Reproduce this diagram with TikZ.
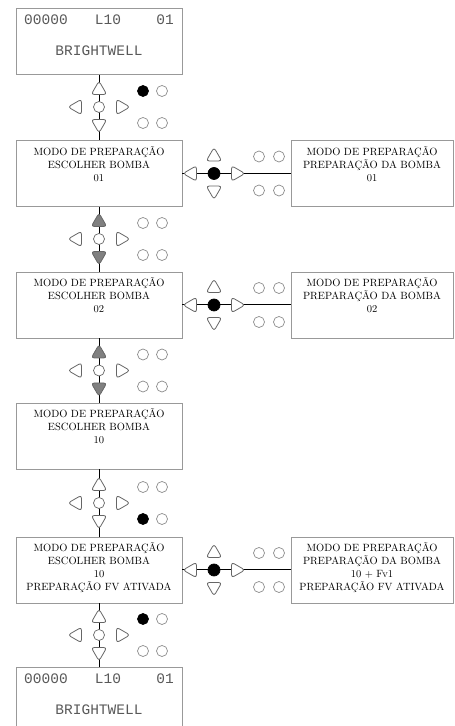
\documentclass[tikz,border=0pt]{standalone}
\usepackage{fontspec}
\usepackage{tikz}
\usetikzlibrary{
    positioning,
    shapes.geometric
}
\newfontfamily\lcdfont{Liberation Mono}

\tikzset{
    panel/.style={draw=black!40, line width=0.7pt, fill=white,
        minimum width=166pt, minimum height=66pt, inner sep=0pt},
    sidepanel/.style={panel, minimum width=162pt},
    paneltext/.style={align=center, inner sep=0pt, text=black,
        font=\fontsize{10.5}{13}\selectfont},
    lcd/.style={inner sep=0pt, text=black!65,
        font=\lcdfont\fontsize{14.5}{16}\selectfont},
    key/.style={regular polygon, regular polygon sides=3, minimum size=18pt,
        inner sep=0pt, draw=black!60, fill=white, line width=0.8pt,
        rounded corners=3pt},
    keyon/.style={key, fill=black!50},
    hub/.style={circle, minimum size=11pt, inner sep=0pt, draw=black!60,
        fill=white, line width=0.7pt},
    hubon/.style={hub, minimum size=12pt, draw=black, fill=black},
    led/.style={circle, minimum size=11pt, inner sep=0pt, draw=black!45,
        fill=white, line width=0.7pt},
    ledon/.style={led, draw=black, fill=black},
    link/.style={line width=1pt, black}
}

\begin{document}
\begin{tikzpicture}[x=1pt, y=1pt]

\useasboundingbox (0,0) rectangle (455,726);
\clip (0,0) rectangle (455,726);

% Main column of screens
\node[panel] (b1) at (99,684.5) {};
\node[panel] (b2) at (99,552.5) {};
\node[panel] (b3) at (99,421) {};
\node[panel] (b4) at (99,290) {};
\node[panel] (b5) at (99,156) {};
\node[panel] (b6) at (99,26) {};

% Side screens
\node[sidepanel] (r1) at (372,552.5) {};
\node[sidepanel] (r2) at (372,421) {};
\node[sidepanel] (r3) at (372,156) {};

% Start and end screens
\node[lcd] (num1) at (46,706) {00000};
\node[lcd] (lvl1) at (108,706) {L10};
\node[lcd] (id1) at (165,706) {01};
\node[lcd] (name1) at (99,675.5) {BRIGHTWELL};
\node[lcd] (num6) at (46,47.5) {00000};
\node[lcd] (lvl6) at (108,47.5) {L10};
\node[lcd] (id6) at (165,47.5) {01};
\node[lcd] (name6) at (99,16.5) {BRIGHTWELL};

% Screen texts
\node[paneltext, below=6pt of b2.north] (t2)
    {MODO DE PREPARAÇÃO\\ESCOLHER BOMBA\\01};
\node[paneltext, below=6pt of b3.north] (t3)
    {MODO DE PREPARAÇÃO\\ESCOLHER BOMBA\\02};
\node[paneltext, below=6pt of b4.north] (t4)
    {MODO DE PREPARAÇÃO\\ESCOLHER BOMBA\\10};
\node[paneltext, below=6pt of b5.north] (t5)
    {MODO DE PREPARAÇÃO\\ESCOLHER BOMBA\\10\\PREPARAÇÃO FV ATIVADA};
\node[paneltext, below=6pt of r1.north] (s1)
    {MODO DE PREPARAÇÃO\\PREPARAÇÃO DA BOMBA\\01};
\node[paneltext, below=6pt of r2.north] (s2)
    {MODO DE PREPARAÇÃO\\PREPARAÇÃO DA BOMBA\\02};
\node[paneltext, below=6pt of r3.north] (s3)
    {MODO DE PREPARAÇÃO\\PREPARAÇÃO DA BOMBA\\10 + Fv1\\PREPARAÇÃO FV ATIVADA};

% Connections
\draw[link] (b1) -- (b2) -- (b3) -- (b4) -- (b5) -- (b6);
\draw[link] (b2) -- (r1);
\draw[link] (b3) -- (r2);
\draw[link] (b5) -- (r3);

% Keypads on the main column
\foreach \n/\y/\k/\la/\lb in {a/619/key/ledon/led, b/487/keyon/led/led,
        c/355.5/keyon/led/led, d/223/key/led/ledon, e/91/key/ledon/led} {
    \node[\k] (up\n) at (99,{\y+17}) {};
    \node[\k, shape border rotate=180] (dn\n) at (99,{\y-17}) {};
    \node[key, shape border rotate=90] (lt\n) at (77,\y) {};
    \node[key, shape border rotate=-90] (rt\n) at (121,\y) {};
    \node[hub] (ok\n) at (99,\y) {};
    \node[\la] (ledA\n) at (143,{\y+16}) {};
    \node[led] (ledB\n) at (162,{\y+16}) {};
    \node[\lb] (ledC\n) at (143,{\y-16}) {};
    \node[led] (ledD\n) at (162,{\y-16}) {};
}

% Keypads towards the side screens
\foreach \n/\y in {p/552.5, q/421, r/156} {
    \node[key, shape border rotate=90] (lt\n) at (192,\y) {};
    \node[key, shape border rotate=-90] (rt\n) at (236,\y) {};
    \node[key] (up\n) at (214,{\y+17}) {};
    \node[key, shape border rotate=180] (dn\n) at (214,{\y-17}) {};
    \node[hubon] (ok\n) at (214,\y) {};
    \node[led] (ledA\n) at (259,{\y+17}) {};
    \node[led] (ledB\n) at (279,{\y+17}) {};
    \node[led] (ledC\n) at (259,{\y-17}) {};
    \node[led] (ledD\n) at (279,{\y-17}) {};
}

\end{tikzpicture}
\end{document}
